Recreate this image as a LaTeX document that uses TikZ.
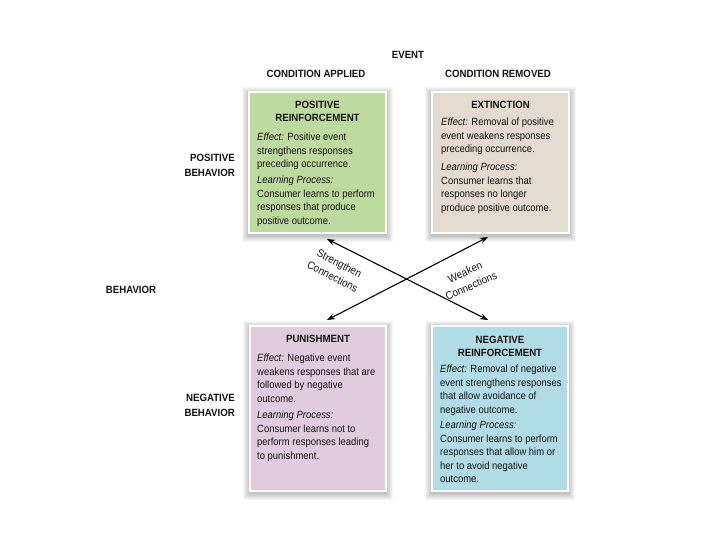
\documentclass[tikz,border=0pt]{standalone}
\usepackage{fontspec}
\setmainfont{Liberation Sans}[FakeStretch=0.9]
\newfontfamily\hdfont{Liberation Sans}[FakeStretch=0.92]
\usetikzlibrary{arrows.meta}
\definecolor{cgreen}{HTML}{BDDB9F}
\definecolor{cbeige}{HTML}{E3DAD0}
\definecolor{cpink}{HTML}{E1CCDF}
\definecolor{cblue}{HTML}{B1DCE6}
\definecolor{ctext}{HTML}{141414}
\newcommand{\softshadow}[4]{%
  \foreach \i in {1,...,7} {\fill[black,opacity=0.035] (#1-\i,#2-\i+2) rectangle (#3+\i,#4+\i+2);}}
\tikzset{
  box/.style={rectangle,draw=white,line width=1.2pt,inner sep=0pt},
  head/.style={font=\hdfont\bfseries\fontsize{10.5}{14.5}\selectfont,text=ctext,inner sep=0pt},
  btitle/.style={font=\hdfont\bfseries\fontsize{10.5}{13}\selectfont,text=ctext,align=center,inner sep=0pt},
  body/.style={font=\fontsize{10.5}{13.4}\selectfont,text=ctext,align=left,anchor=north west,inner sep=0pt},
  conn/.style={{Stealth[length=8pt,width=6pt]}-{Stealth[length=8pt,width=6pt]},line width=1.1pt,black},
  clabel/.style={font=\fontsize{11}{15}\selectfont,text=ctext,align=center,inner sep=0pt}
}
\begin{document}
\begin{tikzpicture}[x=1pt,y=-1pt]
\useasboundingbox (0,0) rectangle (720,540);
\fill[white] (0,0) rectangle (720,540);
% shadows
\softshadow{249}{92}{386}{233}
\softshadow{432}{92}{569}{233}
\softshadow{250}{326}{386}{491}
\softshadow{432}{326}{568}{491}
% boxes
\node[box,fill=cgreen,minimum width=137pt,minimum height=141pt] (pr) at (317.5,162.5) {};
\node[box,fill=cbeige,minimum width=137pt,minimum height=141pt] (ex) at (500.5,162.5) {};
\node[box,fill=cpink,minimum width=136pt,minimum height=165pt] (pu) at (318,408.5) {};
\node[box,fill=cblue,minimum width=136pt,minimum height=165pt] (nr) at (500,408.5) {};
% headers
\node[head] (event) at (408,55) {EVENT};
\node[head] (capp) at (316,74) {CONDITION APPLIED};
\node[head] (crem) at (498,74) {CONDITION REMOVED};
\node[head,align=right,anchor=east] (posb) at (235,165.5) {POSITIVE\\BEHAVIOR};
\node[head] (beh) at (131,290) {BEHAVIOR};
\node[head,align=right,anchor=east] (negb) at (235,405.5) {NEGATIVE\\BEHAVIOR};
% positive reinforcement
\node[btitle] (pr-t) at (317.5,111.5) {POSITIVE\\REINFORCEMENT};
\node[body] (pr-e) at (257,133) {\textit{Effect:} Positive event\\strengthens responses\\preceding occurrence.};
\node[body] (pr-l) at (257,176) {\textit{Learning Process:}\\Consumer learns to perform\\responses that produce\\positive outcome.};
% extinction
\node[btitle] (ex-t) at (500.5,105) {EXTINCTION};
\node[body] (ex-e) at (441,118) {\textit{Effect:} Removal of positive\\event weakens responses\\preceding occurrence.};
\node[body] (ex-l) at (441,163) {\textit{Learning Process:}\\Consumer learns that\\responses no longer\\produce positive outcome.};
% punishment
\node[btitle] (pu-t) at (318,339) {PUNISHMENT};
\node[body] (pu-e) at (257,354) {\textit{Effect:} Negative event\\weakens responses that are\\followed by negative\\outcome.};
\node[body] (pu-l) at (257,411) {\textit{Learning Process:}\\Consumer learns not to\\perform responses leading\\to punishment.};
% negative reinforcement
\node[btitle] (nr-t) at (500,346.5) {NEGATIVE\\REINFORCEMENT};
\node[body] (nr-e) at (440,365) {\textit{Effect:} Removal of negative\\event strengthens responses\\that allow avoidance of\\negative outcome.};
\node[body] (nr-l) at (440,421) {\textit{Learning Process:}\\Consumer learns to perform\\responses that allow him or\\her to avoid negative\\outcome.};
% connectors
\coordinate (a1) at (327,239);
\coordinate (a2) at (488,320);
\coordinate (b1) at (488,237);
\coordinate (b2) at (327,320);
\draw[conn] (a1) -- (a2);
\draw[conn] (b2) -- (b1);
\node[clabel,rotate=-27] (sc) at (336,270) {Strengthen\\Connections};
\node[clabel,rotate=24] (wc) at (468,279) {Weaken\\Connections};
\end{tikzpicture}
\end{document}
